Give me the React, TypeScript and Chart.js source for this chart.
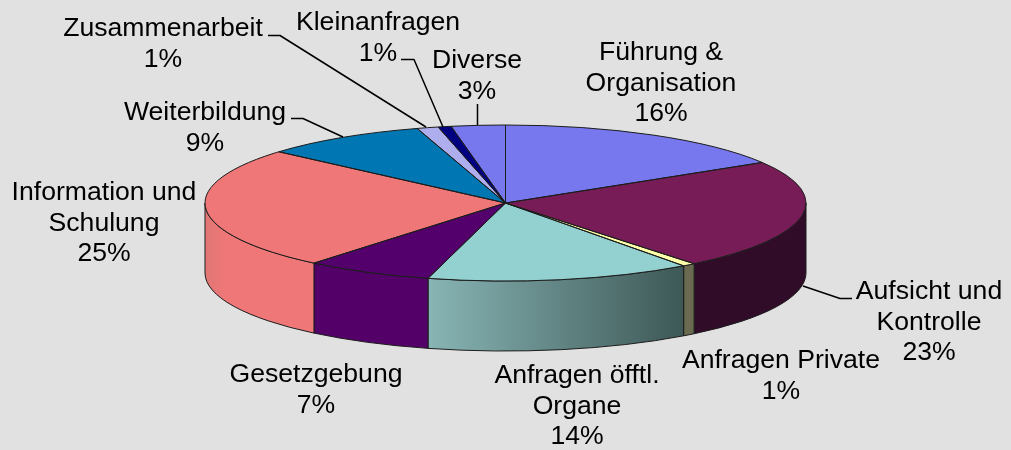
import React, { useEffect, useRef } from "react";
import { Chart, registerables } from "chart.js";

Chart.register(...registerables);

// --- data ---
const categories = [
  "Führung & Organisation",
  "Aufsicht und Kontrolle",
  "Anfragen Private",
  "Anfragen öfftl. Organe",
  "Gesetzgebung",
  "Information und Schulung",
  "Weiterbildung",
  "Zusammenarbeit",
  "Kleinanfragen",
  "Diverse",
];
// slice sizes as measured on the picture; the printed labels are these, rounded
const shares = [16.3, 22.9, 0.7, 14.25, 6.85, 25.4, 8.85, 1.15, 0.7, 2.9];
const labelLines = [
  ["Führung &", "Organisation"],
  ["Aufsicht und", "Kontrolle"],
  ["Anfragen Private"],
  ["Anfragen öfftl.", "Organe"],
  ["Gesetzgebung"],
  ["Information und", "Schulung"],
  ["Weiterbildung"],
  ["Zusammenarbeit"],
  ["Kleinanfragen"],
  ["Diverse"],
];

// --- styles ---
const topColors = ["#7777ee", "#781c58", "#ffffaa", "#93d1d1", "#54006c", "#ef7777", "#0077b2", "#aeaeee", "#000080", "#7777ee"];
const wallStart = ["#7777ee", "#300c28", "#6a6a50", "#88b5b5", "#530068", "#e07676", "#0077b2", "#aeaeee", "#000080", "#7777ee"];
const wallEnd = ["#7777ee", "#300c28", "#6a6a50", "#3d5856", "#530068", "#ef7777", "#0077b2", "#aeaeee", "#000080", "#7777ee"];
const wallEndStop = [1, 1, 1, 1, 1, 0.2, 1, 1, 1, 1];
const BG = "#e1e1e1";
const FONT = '26.6px "Liberation Sans", Arial, sans-serif';
const LINE_H = 30.5;
const PIE_RX = 300.5;
const PIE_RY = 78;
const DEPTH = 70;

// --- label layout: [centre x, first line middle y] ---
const labelAnchors = [
  [661, 53], [929, 292], [781, 361], [577, 376], [316, 375],
  [104, 193], [205, 113], [163, 29], [378, 23], [477, 61],
];
const leaders: (number[][] | null)[] = [
  null,
  [[852, 298.5], [840, 298.5], [803, 286]],
  null, null, null, null,
  [[291, 118.5], [303, 118.5], [343, 137]],
  [[268, 35.5], [280, 35.5], [426, 127]],
  [[401, 59.5], [414, 59.5], [443, 127]],
  [[477.5, 104], [477.5, 125]],
];

const pie3d = {
  id: "pie3d",
  beforeDraw(chart: any) {
    const { ctx, width, height } = chart;
    ctx.save();
    ctx.fillStyle = BG;
    ctx.fillRect(0, 0, width, height);
    ctx.restore();
  },
  beforeDatasetsDraw(chart: any) {
    const ctx = chart.ctx;
    const arcs = chart.getDatasetMeta(0).data;
    ctx.save();
    arcs.forEach((arc: any, i: number) => {
      const a0 = Math.max(arc.startAngle, 0);
      const a1 = Math.min(arc.endAngle, Math.PI);
      if (a1 <= a0) return;
      const cx = arc.x, cy = arc.y;
      const xa = cx + PIE_RX * Math.cos(a0);
      const xb = cx + PIE_RX * Math.cos(a1);
      const g = ctx.createLinearGradient(Math.min(xa, xb), 0, Math.max(xa, xb), 0);
      g.addColorStop(0, wallStart[i]);
      g.addColorStop(wallEndStop[i], wallEnd[i]);
      ctx.beginPath();
      ctx.ellipse(cx, cy, PIE_RX, PIE_RY, 0, a0, a1);
      ctx.ellipse(cx, cy + DEPTH, PIE_RX, PIE_RY, 0, a1, a0, true);
      ctx.closePath();
      ctx.fillStyle = g;
      ctx.fill();
      ctx.strokeStyle = "#1c1c1c";
      ctx.lineWidth = 1;
      ctx.stroke();
    });
    ctx.restore();
    // the library draws the slices through this squash
    const a = arcs[0];
    ctx.save();
    ctx.translate(a.x, a.y);
    ctx.scale(PIE_RX / a.outerRadius, PIE_RY / a.outerRadius);
    ctx.translate(-a.x, -a.y);
  },
  afterDatasetsDraw(chart: any) {
    const ctx = chart.ctx;
    ctx.restore();
    const arcs = chart.getDatasetMeta(0).data;
    ctx.save();
    ctx.strokeStyle = "#1c1c1c";
    ctx.lineWidth = 1;
    ctx.lineJoin = "round";
    arcs.forEach((arc: any) => {
      ctx.beginPath();
      ctx.moveTo(arc.x, arc.y);
      ctx.ellipse(arc.x, arc.y, PIE_RX, PIE_RY, 0, arc.startAngle, arc.endAngle);
      ctx.closePath();
      ctx.stroke();
    });
    ctx.strokeStyle = "#000000";
    ctx.lineWidth = 1.5;
    leaders.forEach((pts) => {
      if (!pts) return;
      ctx.beginPath();
      pts.forEach(([x, y], k) => (k ? ctx.lineTo(x, y) : ctx.moveTo(x, y)));
      ctx.stroke();
    });
    ctx.fillStyle = "#000000";
    ctx.font = FONT;
    ctx.textAlign = "center";
    ctx.textBaseline = "middle";
    labelLines.forEach((lines, i) => {
      const [x, y] = labelAnchors[i];
      [...lines, `${Math.round(shares[i])}%`].forEach((t, k) => ctx.fillText(t, x, y + k * LINE_H));
    });
    ctx.restore();
  },
};

export default function App() {
  const ref = useRef<HTMLCanvasElement>(null);
  useEffect(() => {
    document.body.style.margin = "0";
    document.body.style.background = BG;
    const chart = new Chart(ref.current as HTMLCanvasElement, {
      type: "pie",
      data: {
        labels: categories,
        datasets: [
          {
            data: shares,
            backgroundColor: topColors,
            borderWidth: 0,
            clip: false,
          } as any,
        ],
      },
      options: {
        animation: false,
        responsive: false,
        layout: { padding: { bottom: 44 } },
        plugins: { legend: { display: false }, tooltip: { enabled: false } },
      },
      plugins: [pie3d],
    } as any);
    return () => chart.destroy();
  }, []);
  return <canvas ref={ref} width={1011} height={450} style={{ display: "block" }} />;
}
